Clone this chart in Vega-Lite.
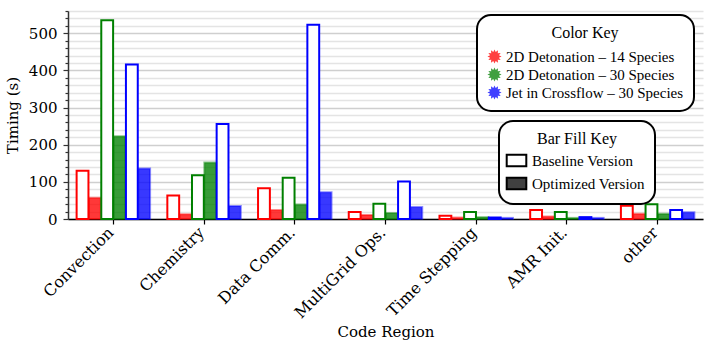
{
  "$schema": "https://vega.github.io/schema/vega-lite/v6.json",
  "autosize": "none",
  "width": 635,
  "height": 208,
  "padding": {"left": 68, "top": 11, "right": 11, "bottom": 130},
  "background": "white",
  "config": {
    "view": {"stroke": null},
    "font": "DejaVu Serif"
  },
  "data": {
    "values": [
      {"region": "Convection", "species": "2D Detonation – 14 Species", "version": "Baseline Version", "slot": "a", "time": 130},
      {"region": "Convection", "species": "2D Detonation – 14 Species", "version": "Optimized Version", "slot": "b", "time": 57},
      {"region": "Convection", "species": "2D Detonation – 30 Species", "version": "Baseline Version", "slot": "c", "time": 535},
      {"region": "Convection", "species": "2D Detonation – 30 Species", "version": "Optimized Version", "slot": "d", "time": 223},
      {"region": "Convection", "species": "Jet in Crossflow – 30 Species", "version": "Baseline Version", "slot": "e", "time": 416},
      {"region": "Convection", "species": "Jet in Crossflow – 30 Species", "version": "Optimized Version", "slot": "f", "time": 136},
      {"region": "Chemistry", "species": "2D Detonation – 14 Species", "version": "Baseline Version", "slot": "a", "time": 63},
      {"region": "Chemistry", "species": "2D Detonation – 14 Species", "version": "Optimized Version", "slot": "b", "time": 13},
      {"region": "Chemistry", "species": "2D Detonation – 30 Species", "version": "Baseline Version", "slot": "c", "time": 118},
      {"region": "Chemistry", "species": "2D Detonation – 30 Species", "version": "Optimized Version", "slot": "d", "time": 152},
      {"region": "Chemistry", "species": "Jet in Crossflow – 30 Species", "version": "Baseline Version", "slot": "e", "time": 256},
      {"region": "Chemistry", "species": "Jet in Crossflow – 30 Species", "version": "Optimized Version", "slot": "f", "time": 35},
      {"region": "Data Comm.", "species": "2D Detonation – 14 Species", "version": "Baseline Version", "slot": "a", "time": 83},
      {"region": "Data Comm.", "species": "2D Detonation – 14 Species", "version": "Optimized Version", "slot": "b", "time": 24},
      {"region": "Data Comm.", "species": "2D Detonation – 30 Species", "version": "Baseline Version", "slot": "c", "time": 111},
      {"region": "Data Comm.", "species": "2D Detonation – 30 Species", "version": "Optimized Version", "slot": "d", "time": 39},
      {"region": "Data Comm.", "species": "Jet in Crossflow – 30 Species", "version": "Baseline Version", "slot": "e", "time": 523},
      {"region": "Data Comm.", "species": "Jet in Crossflow – 30 Species", "version": "Optimized Version", "slot": "f", "time": 72},
      {"region": "MultiGrid Ops.", "species": "2D Detonation – 14 Species", "version": "Baseline Version", "slot": "a", "time": 19},
      {"region": "MultiGrid Ops.", "species": "2D Detonation – 14 Species", "version": "Optimized Version", "slot": "b", "time": 11},
      {"region": "MultiGrid Ops.", "species": "2D Detonation – 30 Species", "version": "Baseline Version", "slot": "c", "time": 41},
      {"region": "MultiGrid Ops.", "species": "2D Detonation – 30 Species", "version": "Optimized Version", "slot": "d", "time": 16},
      {"region": "MultiGrid Ops.", "species": "Jet in Crossflow – 30 Species", "version": "Baseline Version", "slot": "e", "time": 101},
      {"region": "MultiGrid Ops.", "species": "Jet in Crossflow – 30 Species", "version": "Optimized Version", "slot": "f", "time": 32},
      {"region": "Time Stepping", "species": "2D Detonation – 14 Species", "version": "Baseline Version", "slot": "a", "time": 9},
      {"region": "Time Stepping", "species": "2D Detonation – 14 Species", "version": "Optimized Version", "slot": "b", "time": 4},
      {"region": "Time Stepping", "species": "2D Detonation – 30 Species", "version": "Baseline Version", "slot": "c", "time": 19},
      {"region": "Time Stepping", "species": "2D Detonation – 30 Species", "version": "Optimized Version", "slot": "d", "time": 5},
      {"region": "Time Stepping", "species": "Jet in Crossflow – 30 Species", "version": "Baseline Version", "slot": "e", "time": 4},
      {"region": "Time Stepping", "species": "Jet in Crossflow – 30 Species", "version": "Optimized Version", "slot": "f", "time": 3},
      {"region": "AMR Init.", "species": "2D Detonation – 14 Species", "version": "Baseline Version", "slot": "a", "time": 24},
      {"region": "AMR Init.", "species": "2D Detonation – 14 Species", "version": "Optimized Version", "slot": "b", "time": 7},
      {"region": "AMR Init.", "species": "2D Detonation – 30 Species", "version": "Baseline Version", "slot": "c", "time": 19},
      {"region": "AMR Init.", "species": "2D Detonation – 30 Species", "version": "Optimized Version", "slot": "d", "time": 3},
      {"region": "AMR Init.", "species": "Jet in Crossflow – 30 Species", "version": "Baseline Version", "slot": "e", "time": 5},
      {"region": "AMR Init.", "species": "Jet in Crossflow – 30 Species", "version": "Optimized Version", "slot": "f", "time": 3},
      {"region": "other", "species": "2D Detonation – 14 Species", "version": "Baseline Version", "slot": "a", "time": 36},
      {"region": "other", "species": "2D Detonation – 14 Species", "version": "Optimized Version", "slot": "b", "time": 14},
      {"region": "other", "species": "2D Detonation – 30 Species", "version": "Baseline Version", "slot": "c", "time": 40},
      {"region": "other", "species": "2D Detonation – 30 Species", "version": "Optimized Version", "slot": "d", "time": 14},
      {"region": "other", "species": "Jet in Crossflow – 30 Species", "version": "Baseline Version", "slot": "e", "time": 24},
      {"region": "other", "species": "Jet in Crossflow – 30 Species", "version": "Optimized Version", "slot": "f", "time": 18}
    ]
  },
  "encoding": {
    "x": {
      "field": "region",
      "type": "nominal",
      "sort": null,
      "scale": {"paddingInner": 0.19, "paddingOuter": 0.095},
      "axis": {
        "title": "Code Region",
        "titleFont": "DejaVu Serif",
        "titleFontSize": 15,
        "titleFontWeight": "normal",
        "titleColor": "black",
        "titlePadding": 4,
        "labelAngle": -45,
        "labelFont": "DejaVu Serif",
        "labelFontSize": 16,
        "labelColor": "black",
        "labelPadding": 0,
        "labelOffset": -8,
        "domainColor": "black",
        "domainWidth": 1.5,
        "tickColor": "black",
        "tickSize": 5,
        "tickWidth": 1.2,
        "grid": false
      }
    },
    "xOffset": {
      "field": "slot",
      "type": "nominal",
      "scale": {"domain": ["a", "b", "c", "d", "e", "f"], "paddingInner": 0.04, "paddingOuter": 0}
    },
    "y": {
      "field": "time",
      "type": "quantitative",
      "scale": {"domain": [0, 560], "nice": false},
      "axis": {
        "title": "Timing (s)",
        "titleFont": "DejaVu Serif",
        "titleFontSize": 15,
        "titleFontWeight": "normal",
        "titleColor": "black",
        "titlePadding": 8,
        "labelFont": "DejaVu Serif",
        "labelFontSize": 15,
        "labelColor": "black",
        "labelPadding": 6,
        "values": [0, 20, 40, 60, 80, 100, 120, 140, 160, 180, 200, 220, 240, 260, 280, 300, 320, 340, 360, 380, 400, 420, 440, 460, 480, 500, 520, 540, 560],
        "labelExpr": "datum.value % 100 === 0 ? datum.label : ''",
        "tickSize": {"condition": {"test": "datum.value % 100 === 0", "value": 5}, "value": 3},
        "tickColor": "#333",
        "tickWidth": 1.2,
        "domainColor": "#333",
        "domainWidth": 1.5,
        "grid": true,
        "gridColor": {"condition": {"test": "datum.value % 100 === 0", "value": "#cfcfcf"}, "value": "#e4e4e4"},
        "gridWidth": 1.5
      }
    }
  },
  "layer": [
    {
      "transform": [{"filter": "datum.version === 'Baseline Version'"}],
      "mark": {"type": "bar", "fill": "white", "strokeWidth": 0},
      "encoding": {}
    },
    {
      "mark": {"type": "bar", "strokeWidth": 2},
      "encoding": {
        "fill": {
          "field": "species",
          "type": "nominal",
          "scale": {
            "domain": ["2D Detonation – 14 Species", "2D Detonation – 30 Species", "Jet in Crossflow – 30 Species"],
            "range": ["#ff0000", "#008000", "#0000ff"]
          },
          "legend": {
            "title": "Color Key",
            "orient": "none",
            "legendX": 409,
            "legendY": 4,
            "direction": "vertical",
            "titleAnchor": "middle",
            "titleFont": "Liberation Serif",
            "titleFontSize": 16,
            "titleFontWeight": "normal",
            "titleColor": "black",
            "titlePadding": 8,
            "labelFont": "Liberation Serif",
            "labelFontSize": 15,
            "labelColor": "black",
            "labelLimit": 300,
            "rowPadding": 2,
            "symbolType": "M1,0L0.62,0.17L0.87,0.5L0.46,0.46L0.5,0.87L0.17,0.62L0,1L-0.17,0.62L-0.5,0.87L-0.46,0.46L-0.87,0.5L-0.62,0.17L-1,0L-0.62,-0.17L-0.87,-0.5L-0.46,-0.46L-0.5,-0.87L-0.17,-0.62L0,-1L0.17,-0.62L0.5,-0.87L0.46,-0.46L0.87,-0.5L0.62,-0.17Z",
            "symbolSize": 200,
            "symbolOpacity": 0.75,
            "symbolStrokeWidth": 0,
            "padding": 10,
            "strokeColor": "black",
            "cornerRadius": 14,
            "fillColor": "white",
            "encode": {"legend": {"update": {"strokeWidth": {"value": 2}}}}
          }
        },
        "stroke": {
          "field": "species",
          "type": "nominal",
          "scale": {
            "domain": ["2D Detonation – 14 Species", "2D Detonation – 30 Species", "Jet in Crossflow – 30 Species"],
            "range": ["#ff0000", "#008000", "#0000ff"]
          },
          "legend": null
        },
        "fillOpacity": {
          "condition": {"test": "datum.version === 'Baseline Version'", "value": 0},
          "value": 0.78
        },
        "strokeOpacity": {
          "condition": {"test": "datum.version === 'Optimized Version'", "value": 0.45},
          "value": 1
        }
      }
    },
    {
      "mark": {"type": "bar", "stroke": "black", "strokeWidth": 0},
      "encoding": {
        "y2": {"field": "time"},
        "fill": {
          "field": "version",
          "type": "nominal",
          "scale": {"domain": ["Baseline Version", "Optimized Version"], "range": ["#ffffff", "#404040"]},
          "legend": {
            "title": "Bar Fill Key",
            "orient": "none",
            "legendX": 431,
            "legendY": 110,
            "direction": "vertical",
            "titleAnchor": "middle",
            "titleFont": "Liberation Serif",
            "titleFontSize": 16,
            "titleFontWeight": "normal",
            "titleColor": "black",
            "titlePadding": 6,
            "labelFont": "Liberation Serif",
            "labelFontSize": 15,
            "labelColor": "black",
            "labelOffset": 8,
            "rowPadding": 2,
            "symbolType": "M-1.6,-0.95L1.6,-0.95L1.6,0.95L-1.6,0.95Z",
            "symbolSize": 150,
            "symbolStrokeColor": "black",
            "symbolStrokeWidth": 2,
            "symbolOpacity": 1,
            "padding": 10,
            "strokeColor": "black",
            "cornerRadius": 14,
            "fillColor": "white",
            "encode": {"legend": {"update": {"strokeWidth": {"value": 2}}}}
          }
        }
      }
    }
  ],
  "resolve": {"scale": {"fill": "independent"}, "legend": {"fill": "independent"}}
}
